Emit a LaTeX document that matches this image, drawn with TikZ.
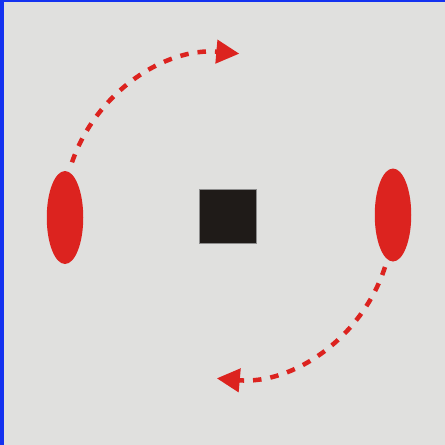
\documentclass[tikz,border=0pt]{standalone}
\usepackage{tikz}
\usetikzlibrary{arrows.meta,shapes.geometric}
\definecolor{bgcol}{HTML}{E0E0DE}
\definecolor{edgeblue}{HTML}{1432F0}
\definecolor{ovred}{HTML}{DC231F}
\definecolor{boxdark}{HTML}{1F1B18}
\tikzset{
  oval/.style={ellipse, fill=ovred, inner sep=0pt,
               minimum width=36.5pt, minimum height=93pt},
  core/.style={rectangle, fill=boxdark, draw=black!45, line width=0.6pt,
               inner sep=0pt, minimum width=57pt, minimum height=54pt},
  rot/.style={draw=ovred, line width=4.5pt, dash pattern=on 8.5pt off 9pt,
              -{Triangle[length=23pt,width=23pt]}},
}

\begin{document}
\begin{tikzpicture}[x=1pt,y=-1pt]
    \fill[bgcol] (0,0) rectangle (445,445);
    \fill[edgeblue] (0,0) rectangle (4,445);
    \fill[edgeblue] (0,0) rectangle (445,2.3);
    \node[oval] (lft) at (65,217.5) {};
    \node[oval] (rgt) at (393,215) {};
    \node[core] (mid) at (228,216) {};
    \coordinate (ts) at (72,162.3);
    \coordinate (bs) at (385,267);
    % y runs downwards, so the angles are mirrored
    \draw[rot] (ts) arc[start angle=-161, end angle=-85, radius=162];
    \draw[rot] (bs) arc[start angle=18, end angle=95, radius=162];
  \end{tikzpicture}
\end{document}
